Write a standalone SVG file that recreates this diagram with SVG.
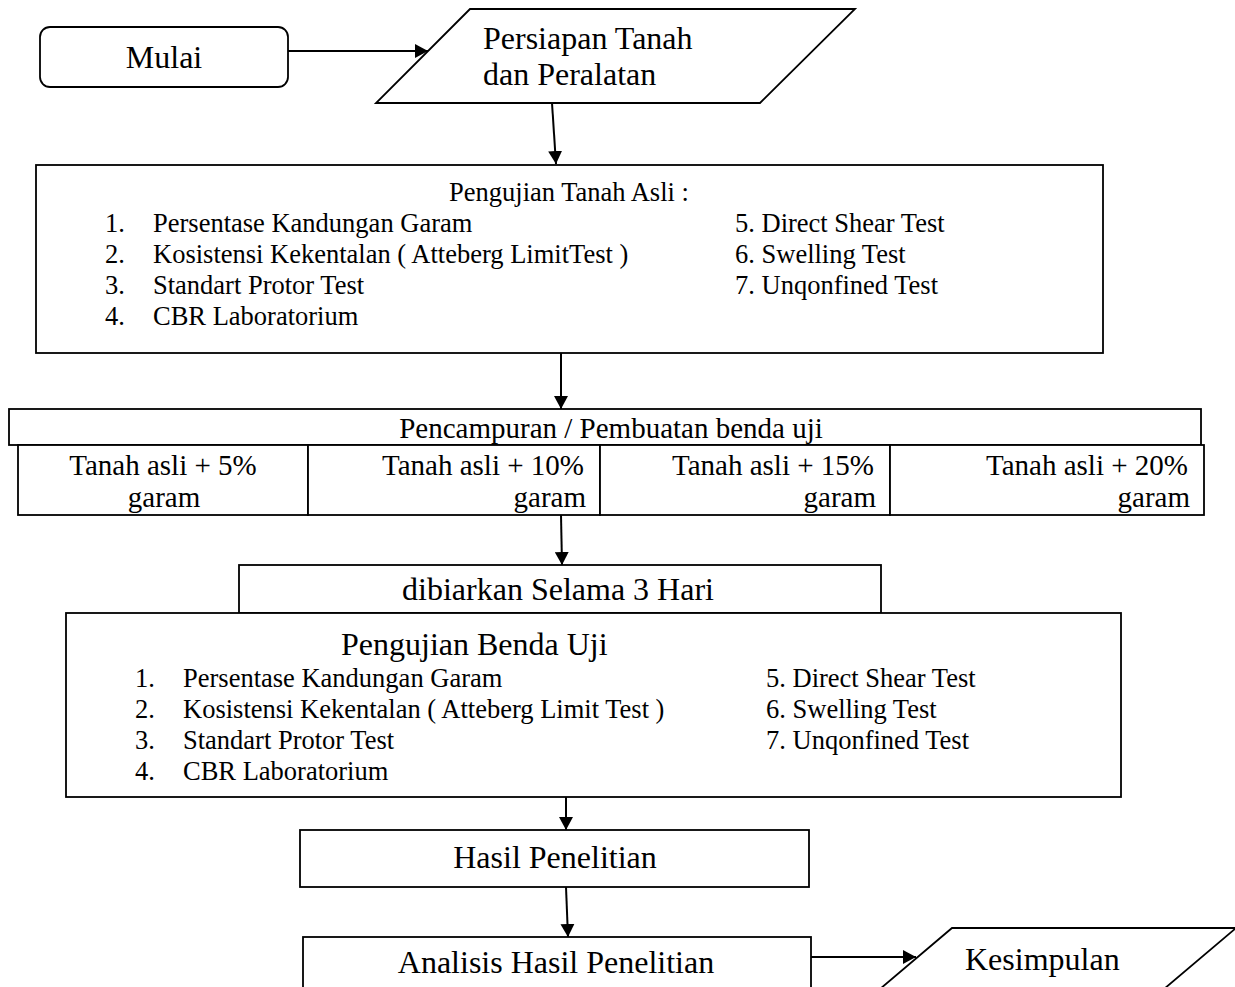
<svg xmlns="http://www.w3.org/2000/svg" width="1235" height="987" viewBox="0 0 1235 987">
<style>
.s{fill:#fff;stroke:#000;stroke-width:1.8}
.t{font-family:"Liberation Serif","Times New Roman",serif;fill:#000}
.b{font-size:32px}
.m{font-size:29px}
.l{font-size:26.5px}
.c{stroke:#000;stroke-width:2;fill:none}
</style>
<defs>
<marker id="ah" markerUnits="userSpaceOnUse" markerWidth="14" markerHeight="14" refX="13" refY="7" orient="auto">
<path d="M0,0 L13,7 L0,14 z" fill="#000"/>
</marker>
</defs>
<rect width="1235" height="987" fill="#fff"/>
<g id="mulai">
<rect class="s" x="40" y="27" width="248" height="60" rx="10"/>
<text class="t b" x="164" y="68" text-anchor="middle">Mulai</text>
</g>
<g id="persiapan">
<polygon class="s" points="470,9 855,9 760,103 376,103"/>
<text class="t b" x="483" y="49">Persiapan Tanah</text>
<text class="t b" x="483" y="85">dan Peralatan</text>
</g>
<g id="pengujian-tanah-asli">
<rect class="s" x="36" y="165" width="1067" height="188" stroke="#222" stroke-width="2"/>
<text class="t l" x="569" y="201" text-anchor="middle">Pengujian Tanah Asli :</text>
<text class="t l" x="105" y="231.5">1.</text><text class="t l" x="153" y="231.5">Persentase Kandungan Garam</text>
<text class="t l" x="105" y="262.5">2.</text><text class="t l" x="153" y="262.5">Kosistensi Kekentalan ( Atteberg LimitTest )</text>
<text class="t l" x="105" y="293.5">3.</text><text class="t l" x="153" y="293.5">Standart Protor Test</text>
<text class="t l" x="105" y="324.5">4.</text><text class="t l" x="153" y="324.5">CBR Laboratorium</text>
<text class="t l" x="735" y="231.5">5. Direct Shear Test</text>
<text class="t l" x="735" y="262.5">6. Swelling Test</text>
<text class="t l" x="735" y="293.5">7. Unqonfined Test</text>
</g>
<g id="pencampuran">
<rect class="s" x="9" y="409" width="1192" height="36"/>
<text class="t m" x="611" y="437.5" text-anchor="middle">Pencampuran / Pembuatan benda uji</text>
</g>
<g id="campuran">
<rect class="s" x="18" y="445" width="290" height="70"/>
<rect class="s" x="308" y="445" width="292" height="70"/>
<rect class="s" x="600" y="445" width="290" height="70"/>
<rect class="s" x="890" y="445" width="314" height="70"/>
<text class="t m" x="163" y="475" text-anchor="middle">Tanah asli + 5%</text>
<text class="t m" x="164" y="507" text-anchor="middle">garam</text>
<text class="t m" x="584" y="475" text-anchor="end">Tanah asli + 10%</text>
<text class="t m" x="586" y="507" text-anchor="end">garam</text>
<text class="t m" x="874" y="475" text-anchor="end">Tanah asli + 15%</text>
<text class="t m" x="876" y="507" text-anchor="end">garam</text>
<text class="t m" x="1188" y="475" text-anchor="end">Tanah asli + 20%</text>
<text class="t m" x="1190" y="507" text-anchor="end">garam</text>
</g>
<g id="dibiarkan">
<rect class="s" x="239" y="565" width="642" height="48"/>
<text class="t b" x="558" y="600" text-anchor="middle">dibiarkan Selama 3 Hari</text>
</g>
<g id="pengujian-benda-uji">
<rect class="s" x="66" y="613" width="1055" height="184"/>
<text class="t b" x="341" y="655">Pengujian Benda Uji</text>
<text class="t l" x="135" y="686.5">1.</text><text class="t l" x="183" y="686.5">Persentase Kandungan Garam</text>
<text class="t l" x="135" y="717.5">2.</text><text class="t l" x="183" y="717.5">Kosistensi Kekentalan ( Atteberg Limit Test )</text>
<text class="t l" x="135" y="748.5">3.</text><text class="t l" x="183" y="748.5">Standart Protor Test</text>
<text class="t l" x="135" y="779.5">4.</text><text class="t l" x="183" y="779.5">CBR Laboratorium</text>
<text class="t l" x="766" y="686.5">5. Direct Shear Test</text>
<text class="t l" x="766" y="717.5">6. Swelling Test</text>
<text class="t l" x="766" y="748.5">7. Unqonfined Test</text>
</g>
<g id="hasil">
<rect class="s" x="300" y="830" width="509" height="57"/>
<text class="t b" x="555" y="868" text-anchor="middle">Hasil Penelitian</text>
</g>
<g id="analisis">
<rect class="s" x="303" y="937" width="508" height="70"/>
<text class="t b" x="556" y="973" text-anchor="middle">Analisis Hasil Penelitian</text>
</g>
<g id="kesimpulan">
<polygon class="s" points="952,928 1236,928 1151,1000 867,1000"/>
<text class="t b" x="965" y="970">Kesimpulan</text>
</g>
<g id="connectors">
<line class="c" x1="288" y1="51" x2="428" y2="51" marker-end="url(#ah)"/>
<line class="c" x1="552" y1="103" x2="556" y2="164" marker-end="url(#ah)"/>
<line class="c" x1="561" y1="353" x2="561" y2="409" marker-end="url(#ah)"/>
<line class="c" x1="561" y1="515" x2="562" y2="565" marker-end="url(#ah)"/>
<line class="c" x1="566" y1="797" x2="566" y2="830" marker-end="url(#ah)"/>
<line class="c" x1="566" y1="887" x2="568" y2="937" marker-end="url(#ah)"/>
<line class="c" x1="811" y1="957" x2="916" y2="957" marker-end="url(#ah)"/>
</g>
</svg>
